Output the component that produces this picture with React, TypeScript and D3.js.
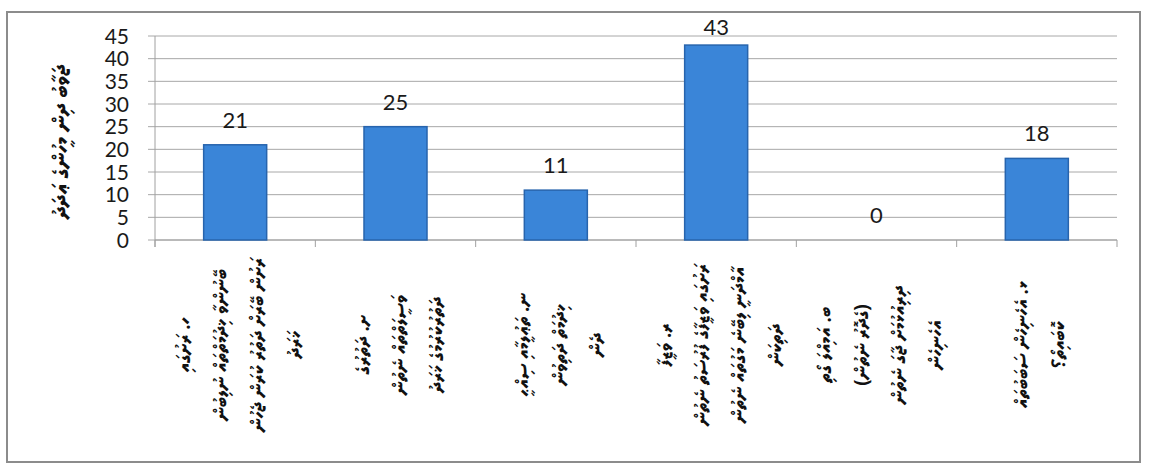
import React from "react";
import { scaleBand, scaleLinear } from "d3";

// category keys (list letters) and their wrapped Thaana labels
const categories = ["ހ", "ށ", "ނ", "ރ", "ބ", "ޅ"];
const categoryLabels: string[][] = [
  ["ހ. ރަށުގައި", "ބޭނުންވާ ޚިދުމަތްތައް ނުލިބުން", "ރަށުން ބޭރަށް ދަތުރު ކުރަން ޖެހުން", "ޚަރަދު"],
  ["ށ. ދަތުރުގެ", "ވަސީލަތްތައް ނެތުން", "ދަތުރުކުރުމުގެ ޚަރަދު"],
  ["ނ. ތަޢުލީމާއި ސިއްޙީ", "ޚިދުމަތް ދަތިވުން", "ދެން"],
  ["ރ. ވަޒީފާ", "ރަށުގައި ވަޒީފާގެ ފުރުސަތު ނެތުން", "އާމްދަނީ ލިބޭނެ މަގުތައް ނެތުން", "ދަތިކަން"],
  ["ބ. އަމިއްލަ ގޯތި", "(ގެދޮރު ނެތުން)", "ދިރިއުޅުމަށް ޖާގަ ނެތުން", "އެހެނިހެން"],
  ["ޅ. އެހެނިހެން ސަބަބުތައް", "ކޮބައިތޯ؟"],
];
const values = [21, 25, 11, 43, 0, 18];
const yTicks = [0, 5, 10, 15, 20, 25, 30, 35, 40, 45];
const yTitle = "ޖަވާބު ދިން މީހުންގެ ޢަދަދު";

const W = 1150;
const H = 465;
const thaanaFont = "'Noto Sans Thaana', 'MV Faruma', 'DejaVu Sans', sans-serif";
const numFont = "Lato, 'Open Sans', sans-serif";

export default function App() {
  const x = scaleBand<string>()
    .domain(categories)
    .range([155, 1117])
    .paddingInner(0.607)
    .paddingOuter(0.3035);
  const y = scaleLinear().domain([0, 45]).range([240, 36]);

  const [x0, x1] = x.range();
  const boundaries = categories.map((_, i) => x0 + i * x.step()).concat([x1]);

  return (
    <svg
      width={W}
      height={H}
      style={{ position: "absolute", left: 0, top: 0, background: "#fff" }}
    >
      {/* outer frame */}
      <rect x={7} y={12} width={1133} height={450} fill="none" stroke="#8c8c8c" strokeWidth={2} />

      {/* gridlines + y ticks */}
      {yTicks.map((t) => (
        <g key={t}>
          <line x1={148} x2={x1} y1={y(t)} y2={y(t)} stroke="#a8a8a8" strokeWidth={1} />
          <text
            x={129}
            y={y(t)}
            dy="0.36em"
            textAnchor="end"
            fontFamily={numFont}
            fontSize={21}
            fill="#1a1a1a"
          >
            {t}
          </text>
        </g>
      ))}

      {/* axes */}
      <line x1={x0} x2={x0} y1={y(45)} y2={y(0) + 7} stroke="#a0a0a0" strokeWidth={1} />
      <line x1={x0} x2={x1} y1={y(0)} y2={y(0)} stroke="#a0a0a0" strokeWidth={1} />
      {boundaries.map((b, i) => (
        <line key={i} x1={b} x2={b} y1={y(0)} y2={y(0) + 7} stroke="#a0a0a0" strokeWidth={1} />
      ))}

      {/* bars */}
      {categories.map((c, i) => (
        <rect
          key={c}
          x={x(c)}
          y={y(values[i])}
          width={x.bandwidth()}
          height={y(0) - y(values[i])}
          fill="#3a85d8"
          stroke="#2764ad"
          strokeWidth={1.5}
        />
      ))}

      {/* value labels */}
      {categories.map((c, i) => (
        <text
          key={c}
          x={(x(c) ?? 0) + x.bandwidth() / 2}
          y={Math.max(y(values[i]) - 17, 35)}
          textAnchor="middle"
          fontFamily={numFont}
          fontSize={22}
          fill="#1a1a1a"
        >
          {values[i]}
        </text>
      ))}

      {/* rotated category labels */}
      {categories.map((c, i) => {
        const lines = categoryLabels[i];
        const cx = (x(c) ?? 0) + x.bandwidth() / 2;
        return (
          <g key={c}>
            {lines.map((ln, j) => (
              <text
                key={j}
                transform={`translate(${cx + (j - (lines.length - 1) / 2) * 37 + 10},345) rotate(-90)`}
                textAnchor="middle"
                direction="rtl"
                fontFamily={thaanaFont}
                fontSize={19}
                fontWeight={700}
                fill="#111"
              >
                {ln}
              </text>
            ))}
          </g>
        );
      })}

      {/* y axis title */}
      <text
        transform={`translate(68,${(y(0) + y(45)) / 2 + 4}) rotate(-90)`}
        textAnchor="middle"
        direction="rtl"
        fontFamily={thaanaFont}
        fontSize={22}
        fontWeight={700}
        fill="#111"
      >
        {yTitle}
      </text>
    </svg>
  );
}
